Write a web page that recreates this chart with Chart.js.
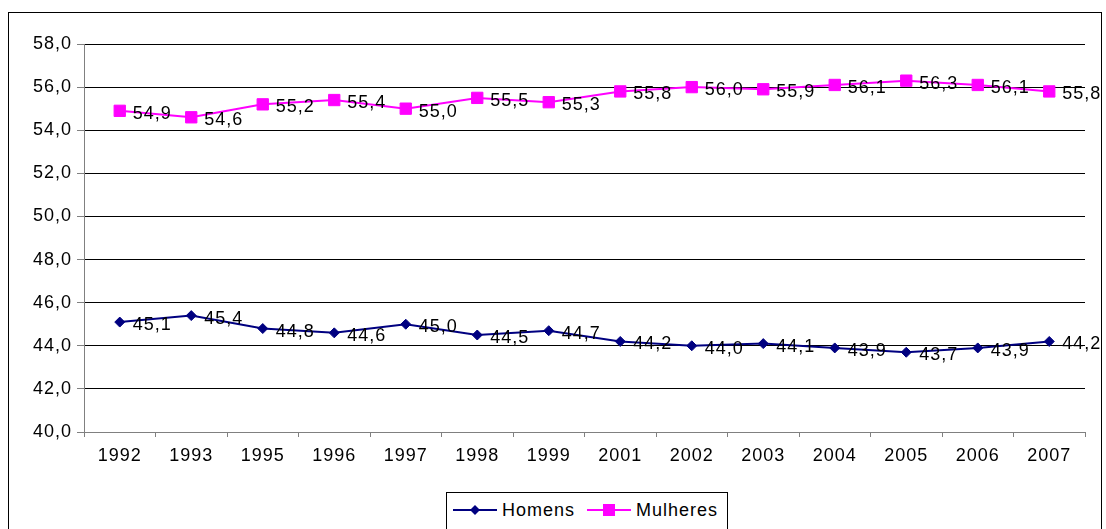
<!DOCTYPE html>
<html>
<head>
<meta charset="utf-8">
<script src="https://cdn.jsdelivr.net/npm/chart.js@4"></script>
<style>
  body { margin: 0; background: #fff; font-family: "Liberation Sans", Arial, sans-serif; }
  #frame { position: absolute; left: 8px; top: 12px; width: 1094px; height: 540px; border: 1px solid #000; box-sizing: border-box; }
  #wrap { position: absolute; left: 0; top: 0; width: 1106px; height: 480px; }
  #legend { position: absolute; left: 446px; top: 492px; width: 282px; height: 50px; border: 1px solid #000; box-sizing: border-box; font-size: 18px; letter-spacing: 1px; }
  .item { position: absolute; top: 6px; height: 22px; line-height: 22px; }
  .item svg { position: absolute; left: 0; top: 0; }
  .item span { position: absolute; top: 0; white-space: nowrap; }
</style>
</head>
<body>
<div id="frame"></div>
<div id="wrap"><canvas id="chart"></canvas></div>
<div id="legend">
  <div class="item" style="left:6px">
    <svg width="44" height="22"><line x1="0" y1="11" x2="44" y2="11" stroke="#000080" stroke-width="2"/><polygon points="22,6 27,11 22,16 17,11" fill="#000080"/></svg>
    <span style="left:49px">Homens</span>
  </div>
  <div class="item" style="left:140px">
    <svg width="44" height="22"><line x1="0" y1="11" x2="44" y2="11" stroke="#FF00FF" stroke-width="2"/><rect x="16" y="5" width="12" height="12" fill="#FF00FF"/></svg>
    <span style="left:49px">Mulheres</span>
  </div>
</div>
<script>
const anos = ['1992', '1993', '1995', '1996', '1997', '1998', '1999', '2001', '2002', '2003', '2004', '2005', '2006', '2007'];
const homens = [45.1, 45.4, 44.8, 44.6, 45.0, 44.5, 44.7, 44.2, 44.0, 44.1, 43.9, 43.7, 43.9, 44.2];
const mulheres = [54.9, 54.6, 55.2, 55.4, 55.0, 55.5, 55.3, 55.8, 56.0, 55.9, 56.1, 56.3, 56.1, 55.8];

const fmt = v => v.toFixed(1).replace('.', ',');

// rotulos ao lado de cada ponto, como no Excel
const rotulos = {
    id: 'rotulos',
    beforeDraw(chart) { chart.ctx.letterSpacing = '1px'; },
    afterDatasetsDraw(chart) {
        const ctx = chart.ctx;
        ctx.save();
        ctx.font = '18px "Liberation Sans", Arial, sans-serif';
        ctx.letterSpacing = '1px';
        ctx.fillStyle = '#000';
        ctx.textAlign = 'left';
        ctx.textBaseline = 'middle';
        chart.data.datasets.forEach((ds, i) => {
            chart.getDatasetMeta(i).data.forEach((pt, j) => {
                ctx.fillText(fmt(ds.data[j]), pt.x + 13, pt.y + 3);
            });
        });
        ctx.restore();
    }
};

new Chart(document.getElementById('chart'), {
    type: 'line',
    data: {
        labels: anos,
        datasets: [
            { label: 'Homens', data: homens, borderColor: '#000080', backgroundColor: '#000080', borderWidth: 2,
              pointStyle: 'rectRot', pointRadius: 5, pointBorderWidth: 1, tension: 0 },
            { label: 'Mulheres', data: mulheres, borderColor: '#FF00FF', backgroundColor: '#FF00FF', borderWidth: 2,
              pointStyle: 'rect', pointRadius: 8, pointBorderWidth: 1, tension: 0 }
        ]
    },
    options: {
        responsive: true,
        maintainAspectRatio: false,
        animation: false,
        layout: { padding: { left: 0, right: 21, top: 44, bottom: 0 } },
        plugins: { legend: { display: false }, tooltip: { enabled: false } },
        scales: {
            x: {
                offset: true,
                grid: { drawOnChartArea: false, drawTicks: true, tickLength: 5, color: '#808080', offset: true },
                border: { color: '#808080' },
                ticks: { color: '#000', font: { size: 18, family: '"Liberation Sans", Arial, sans-serif' }, padding: 8, maxRotation: 0 },
                afterFit(scale) { scale.height = 48; }
            },
            y: {
                min: 40, max: 58,
                grid: { color: '#000', tickColor: '#808080', tickLength: 7 },
                border: { color: '#808080' },
                ticks: { stepSize: 2, color: '#000', padding: 5, font: { size: 18, family: '"Liberation Sans", Arial, sans-serif' }, callback: v => fmt(v) },
                afterFit(scale) { scale.width = 84; }
            }
        }
    },
    plugins: [rotulos]
});
</script>
</body>
</html>
